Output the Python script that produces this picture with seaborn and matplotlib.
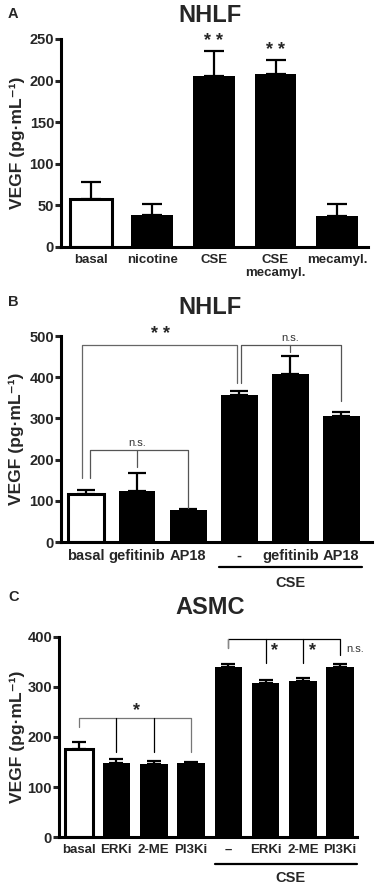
import numpy as np
import pandas as pd
import matplotlib
matplotlib.use("Agg")
import matplotlib.pyplot as plt
import seaborn as sns

# Panel A - NHLF
a_groups = ["basal", "nicotine", "CSE", "CSE+mecamyl", "mecamyl"]
a_labels = ["basal", "nicotine", "CSE", "CSE\nmecamyl.", "mecamyl."]
a_mean = [58, 38, 205, 208, 37]
a_sem = [20, 14, 31, 17, 15]

# Panel B - NHLF
b_groups = ["basal", "gefitinib", "AP18", "CSE", "CSE+gefitinib", "CSE+AP18"]
b_labels = ["basal", "gefitinib", "AP18", "-", "gefitinib", "AP18"]
b_mean = [117, 125, 77, 356, 408, 305]
b_sem = [10, 42, 2, 11, 43, 10]

# Panel C - ASMC
c_groups = ["basal", "ERKi", "2-ME", "PI3Ki", "CSE", "CSE+ERKi", "CSE+2-ME", "CSE+PI3Ki"]
c_labels = ["basal", "ERKi", "2-ME", "PI3Ki", "\u2013", "ERKi", "2-ME", "PI3Ki"]
c_mean = [177, 148, 147, 148, 341, 308, 312, 341]
c_sem = [13, 8, 6, 2, 6, 7, 7, 5]

sns.set_style("white")
plt.rcParams['font.family'] = ['Liberation Sans', 'DejaVu Sans']
plt.rcParams['font.weight'] = 'bold'

W, H = 375, 888
fig = plt.figure(figsize=(W / 100, H / 100), dpi=100)


def px_axes(left, right, top, bottom):
    return fig.add_axes([left / W, 1 - bottom / H, (right - left) / W, (bottom - top) / H])


def draw_panel(ax, groups, labels, mean, sem, width, capsize, xlim, ylim, yticks, tick_fs, label_fs):
    df = pd.DataFrame({"group": groups, "VEGF": mean})
    sns.barplot(data=df, x="group", y="VEGF", color="black", width=width,
                errorbar=None, saturation=1, linewidth=0, ax=ax, zorder=2)
    first = ax.patches[0]
    first.set_facecolor("white")
    first.set_edgecolor("black")
    first.set_linewidth(2.2)
    x = np.arange(len(mean))
    ax.errorbar(x, mean, yerr=[np.zeros(len(sem)), sem], fmt="none", ecolor="black",
                elinewidth=1.6, capsize=capsize, capthick=1.6, zorder=1)
    ax.set_xlim(*xlim)
    ax.set_ylim(*ylim)
    ax.set_yticks(yticks)
    ax.set_yticklabels([str(t) for t in yticks], fontsize=tick_fs, fontweight="bold")
    ax.set_xticks(x)
    ax.set_xticklabels(labels, fontsize=label_fs, fontweight="bold", linespacing=1.1)
    ax.tick_params(axis="x", length=0, pad=5)
    ax.tick_params(axis="y", length=4, width=2.2, direction="out", pad=1, left=True)
    ax.set_xlabel("")
    ax.set_ylabel("VEGF (pg\u00b7mL\u207b\u00b9)", fontsize=12.5, fontweight="bold", labelpad=2)
    sns.despine(ax=ax)
    for s in ["left", "bottom"]:
        ax.spines[s].set_linewidth(2.2)
        ax.spines[s].set_color("black")


def bracket(ax, x0, x1, y, y0, y1, color="#666666", lw=0.9):
    ax.plot([x0, x0, x1, x1], [y0, y, y, y1], color=color, lw=lw, clip_on=False, zorder=3)


def tick(ax, xv, y, yb, color="black", lw=0.9):
    ax.plot([xv, xv], [y, yb], color=color, lw=lw, clip_on=False, zorder=3)


# ---- A ----
axA = px_axes(61, 368, 39, 247)
draw_panel(axA, a_groups, a_labels, a_mean, a_sem, 0.68, 7.5, (-0.48, 4.5), (0, 250),
           [0, 50, 100, 150, 200, 250], 10.5, 9.5)
axA.yaxis.set_label_coords(-0.118, 0.5)
for i in [2, 3]:
    axA.text(i, a_mean[i] + a_sem[i] + 1, "* *", ha="center", va="bottom", fontsize=13, fontweight="bold")
fig.text(210 / W, 1 - 15 / H, "NHLF", ha="center", va="center", fontsize=17, fontweight="bold")
fig.text(8 / W, 1 - 14 / H, "A", ha="left", va="center", fontsize=10.5, fontweight="bold")

# ---- B ----
axB = px_axes(61, 372, 336, 542)
draw_panel(axB, b_groups, b_labels, b_mean, b_sem, 0.72, 6.8, (-0.49, 5.6), (0, 500),
           [0, 100, 200, 300, 400, 500], 10.5, 10.5)
axB.yaxis.set_label_coords(-0.118, 0.5)
bracket(axB, -0.08, 2.96, 478, 155, 386)
bracket(axB, 0.08, 2.0, 223, 155, 83, color="#555555")
tick(axB, 1, 223, 182, color="#555555")
bracket(axB, 3.04, 5.0, 478, 386, 342, color="#555555")
tick(axB, 4, 478, 461, color="#555555")
axB.text(1.45, 484, "* *", ha="center", va="bottom", fontsize=13, fontweight="bold")
axB.text(4.0, 482, "n.s.", ha="center", va="bottom", fontsize=8, fontweight="normal", color="#333333")
axB.text(1.0, 227, "n.s.", ha="center", va="bottom", fontsize=8, fontweight="normal", color="#333333")
axB.plot([2.6, 5.4], [-0.12, -0.12], color="black", lw=1.6, transform=axB.get_xaxis_transform(), clip_on=False)
axB.text(4.0, -0.2, "CSE", ha="center", va="center", fontsize=10.5, fontweight="bold",
         transform=axB.get_xaxis_transform())
fig.text(210 / W, 1 - 308 / H, "NHLF", ha="center", va="center", fontsize=17, fontweight="bold")
fig.text(8 / W, 1 - 302 / H, "B", ha="left", va="center", fontsize=10.5, fontweight="bold")

# ---- C ----
axC = px_axes(59, 357, 637, 837)
draw_panel(axC, c_groups, c_labels, c_mean, c_sem, 0.74, 4.7, (-0.54, 7.45), (0, 400),
           [0, 100, 200, 300, 400], 10.5, 9.5)
axC.yaxis.set_label_coords(-0.115, 0.5)
bracket(axC, 0, 3, 238, 220, 170, color="#777777")
tick(axC, 1, 238, 170)
tick(axC, 2, 238, 170)
axC.text(1.55, 236, "*", ha="center", va="bottom", fontsize=13, fontweight="bold")
bracket(axC, 4, 7, 396, 378, 364, color="black")
axC.plot([4, 4], [396, 378], color="#888888", lw=0.9, zorder=3)
tick(axC, 5, 396, 348)
tick(axC, 6, 396, 348)
axC.text(5.15, 372, "*", ha="left", va="center", fontsize=13, fontweight="bold")
axC.text(6.15, 372, "*", ha="left", va="center", fontsize=13, fontweight="bold")
axC.text(7.15, 376, "n.s.", ha="left", va="center", fontsize=8, fontweight="normal", color="#333333")
axC.plot([3.65, 7.45], [-0.135, -0.135], color="black", lw=1.6, transform=axC.get_xaxis_transform(), clip_on=False)
axC.text(5.66, -0.205, "CSE", ha="center", va="center", fontsize=10.5, fontweight="bold",
         transform=axC.get_xaxis_transform())
fig.text(210 / W, 1 - 607 / H, "ASMC", ha="center", va="center", fontsize=17, fontweight="bold")
fig.text(8 / W, 1 - 597 / H, "C", ha="left", va="center", fontsize=10.5, fontweight="bold")

fig.savefig("out.png", dpi=100)
